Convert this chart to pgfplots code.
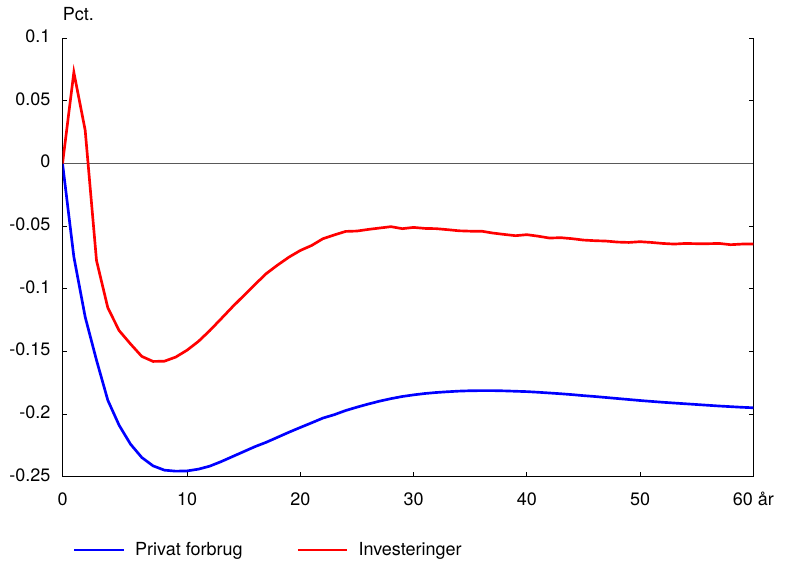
\documentclass[border=0pt]{standalone}
\usepackage{pgfplots}
\pgfplotsset{compat=1.18}
\usepackage{fontspec}
\setmainfont{TeX Gyre Heros}
\begin{document}
\fontsize{13.5pt}{16pt}\selectfont
\begin{tikzpicture}
\useasboundingbox (-46.9pt,-64pt) rectangle (542.6pt,357.5pt);
\begin{axis}[
  scale only axis, width=518.1pt, height=328.8pt,
  xmin=-1, xmax=60, ymin=-0.25, ymax=0.1,
  axis x line*=bottom, axis y line*=box,
  axis line style={-, line width=0.9pt, black},
  tick align=inside, major tick length=3.2pt,
  tick style={black, line width=0.6pt},
  xtick={-1,10,20,30,40,50,60},
  xticklabels={0,10,20,30,40,50,60 år},
  ytick={-0.25,-0.2,-0.15,-0.1,-0.05,0,0.05,0.1},
  yticklabels={-0.25,-0.2,-0.15,-0.1,-0.05,0,0.05,0.1},
  xticklabel style={anchor=base, inner sep=0pt, yshift=-21.75pt},
  yticklabel style={anchor=base east, inner sep=0pt, xshift=-8.9pt, yshift=-3.3pt},
  legend columns=2,
  legend image code/.code={\draw[#1] (0pt,0pt) -- (37pt,0pt);},
  legend style={draw=none, fill=none, inner sep=0pt, outer sep=0pt,
    at={(0.01525,-0.1675)}, anchor=west,
    nodes={inner sep=0pt},
    /tikz/every odd column/.append style={column sep=7.6pt},
    /tikz/every even column/.append style={column sep=40.3pt}},
  legend cell align=left,
  clip mode=individual,
]
\addplot[forget plot, black!65, line width=0.5pt] coordinates {(-1,0) (60,0)};
\addplot[blue, line width=2pt] coordinates {
(-1,0) (0,-0.0745) (1,-0.1225) (2,-0.157) (3,-0.189) (4,-0.209) (5,-0.224)
(6,-0.2347) (7,-0.2414) (8,-0.2448) (9,-0.2456) (10,-0.2454) (11,-0.244)
(12,-0.2416) (13,-0.238) (14,-0.234) (15,-0.230) (16,-0.226) (17,-0.2225)
(18,-0.2185) (19,-0.2145) (20,-0.2107) (21,-0.207) (22,-0.2032) (23,-0.2005)
(24,-0.1972) (25,-0.1945) (26,-0.192) (27,-0.1897) (28,-0.1877) (29,-0.186)
(30,-0.1847) (31,-0.1836) (32,-0.1828) (33,-0.1822) (34,-0.1817) (35,-0.1814)
(36,-0.1813) (37,-0.1813) (38,-0.1815) (39,-0.1818) (40,-0.1821) (41,-0.1826)
(42,-0.1832) (43,-0.1838) (44,-0.1845) (45,-0.1853) (46,-0.186) (47,-0.1868)
(48,-0.1876) (49,-0.1884) (50,-0.1892) (51,-0.1899) (52,-0.1906) (53,-0.1912)
(54,-0.1918) (55,-0.1924) (56,-0.193) (57,-0.1936) (58,-0.1941) (59,-0.1946)
(60,-0.195)};
\addlegendentry{Privat forbrug}
\addplot[red, line width=2pt] coordinates {
(-1,0) (0,0.0728) (1,0.0266) (2,-0.0774) (3,-0.1152) (4,-0.1334) (5,-0.144)
(6,-0.154) (7,-0.158) (8,-0.1578) (9,-0.1545) (10,-0.149) (11,-0.142)
(12,-0.1334) (13,-0.124) (14,-0.1145) (15,-0.1055) (16,-0.0965) (17,-0.0878)
(18,-0.081) (19,-0.0747) (20,-0.0694) (21,-0.0654) (22,-0.060) (23,-0.057)
(24,-0.0542) (25,-0.0539) (26,-0.0526) (27,-0.0515) (28,-0.0504) (29,-0.052)
(30,-0.051) (31,-0.0518) (32,-0.052) (33,-0.0528) (34,-0.0537) (35,-0.054)
(36,-0.054) (37,-0.0555) (38,-0.0566) (39,-0.0576) (40,-0.0568) (41,-0.058)
(42,-0.0595) (43,-0.0592) (44,-0.06) (45,-0.0611) (46,-0.0616) (47,-0.0619)
(48,-0.0627) (49,-0.063) (50,-0.0624) (51,-0.063) (52,-0.0638) (53,-0.0643)
(54,-0.0638) (55,-0.064) (56,-0.064) (57,-0.0638) (58,-0.0648) (59,-0.0643)
(60,-0.0643)};
\addlegendentry{Investeringer}
\end{axis}
\node[anchor=base west, inner sep=0pt] at ([yshift=13.7pt]current axis.north west) {Pct.};
\end{tikzpicture}
\end{document}
